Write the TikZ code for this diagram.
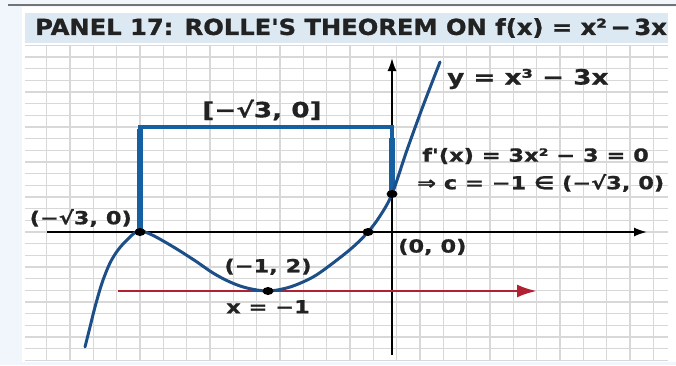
\documentclass[tikz,border=0pt]{standalone}
\usepackage{fontspec}
\setmainfont{DejaVu Sans}
\newfontfamily\lblfont[FakeStretch=1.25, BoldFeatures={FakeBold=0.8}]{DejaVu Sans}
\newfontfamily\ttlfont[FakeStretch=1.10, BoldFeatures={FakeBold=1.2}]{DejaVu Sans}
\usepackage{tikz}
\usetikzlibrary{positioning,arrows.meta}
\definecolor{pageBg}{RGB}{241,246,252}
\definecolor{titleBand}{RGB}{220,233,243}
\definecolor{gridGray}{RGB}{216,216,216}
\definecolor{curveBlue}{RGB}{28,78,135}
\definecolor{boxBlue}{RGB}{22,96,162}
\definecolor{critRed}{RGB}{176,34,50}
\definecolor{inkGray}{RGB}{34,34,34}

\begin{document}
\begin{tikzpicture}[x=1pt, y=-1pt,
  gridline/.style={gridGray, line width=1.3pt},
  axisline/.style={black, line width=1.8pt, -{Latex[length=13pt,width=9pt]}},
  curveline/.style={curveBlue, line width=3pt, line cap=round},
  boxline/.style={boxBlue, line join=miter},
  critarrow/.style={critRed, line width=2.8pt, -{Latex[length=20pt,width=13pt]}},
  ptdot/.style={fill=black},
  ttl/.style={font=\ttlfont\bfseries\fontsize{22}{24}\selectfont, text=inkGray, inner sep=0pt},
  lbl/.style={font=\lblfont\bfseries\fontsize{18}{21}\selectfont, text=inkGray, inner sep=0pt},
  biglbl/.style={lbl, font=\lblfont\bfseries\fontsize{21}{24}\selectfont},
]
\useasboundingbox (0,0) rectangle (676,365);

% ===================================================================
% FRAME, TITLE BAND, GRID
% ===================================================================
\fill[pageBg] (0,0) rectangle (676,365);
\fill[white] (22,7) rectangle (676,362);
\draw[black!55, line width=2.2pt] (8,5) -- (676,5);
\fill[titleBand] (25,13) rectangle (668,43);
\node[ttl, anchor=west] (title) at (35,28) {PANEL 17: ROLLE'S THEOREM ON f(x) = x²\,−\,3x};

\begin{scope}
  \clip (25,45) rectangle (668,360);
  \foreach \i in {-5,...,23}
    \draw[gridline] ({140+23.33*\i},45) -- ++(0,315);
  \foreach \j in {-16,...,11}
    \draw[gridline] (25,{232+11.67*\j}) -- ++(643,0);
\end{scope}

% ===================================================================
% KEY POINTS
% ===================================================================
\coordinate (rootL) at (140,232);
\coordinate (rootR) at (368,232);
\coordinate (minPt) at (268,291);
\coordinate (yCut)  at (392,194);
\coordinate (boxTL) at (140,127);
\coordinate (boxTR) at (392,127);

% Axes
\draw[axisline] (47,232) -- (647,232);
\draw[axisline] (392,355) -- (392,58);

% Horizontal tangent arrow
\draw[critarrow] (118,291) -- (537,291);

% Interval box
\draw[boxline, line width=3.5pt] (rootL) -- (boxTL) -- (boxTR) -- (392,140);
\draw[boxline, line width=6pt] (rootL) -- ([yshift=-1.5pt]boxTL);
\draw[boxline, line width=5.5pt] (392,138) -- (yCut);

% Curve y = x^3 - 3x
\draw[curveline] plot[smooth, tension=0.55] coordinates {
  (85,347) (90,327) (95,307) (102,283) (110,263) (118,250) (127,240)
  (138,231) (150,234) (165,242) (180,251) (197,262) (213,273)
  (230,282) (247,288) (268,291) (290,287) (313,277) (333,263) (353,247)
  (368,232) (380,216) (392,194) (407,150) (423,106) (440,62)};

% Marked points
\foreach \p in {rootL,rootR,minPt,yCut}
  \fill[ptdot] (\p) ellipse (5.5pt and 4pt);

% ===================================================================
% LABELS
% ===================================================================
\node[biglbl, anchor=west] (curveLbl) at (447,79) {y = x³ − 3x};
\node[biglbl] (intervalLbl) at (262,110) {[−√3, 0]};
\node[lbl, anchor=west] (derivLbl) at (422,156) {f'(x) = 3x² − 3 = 0};
\node[lbl, anchor=west] (critLbl) at (417,183) {⇒ c = −1 ∈ (−√3, 0)};
\node[lbl, anchor=east] (rootLbl) at (132,218) {(−√3, 0)};
\node[lbl, anchor=west] (originLbl) at (398,247) {(0, 0)};
\node[lbl, above=16pt of minPt] (minLbl) {(−1, 2)};
\node[lbl, below=9pt of minPt] (xcritLbl) {x = −1};

\end{tikzpicture}
\end{document}
